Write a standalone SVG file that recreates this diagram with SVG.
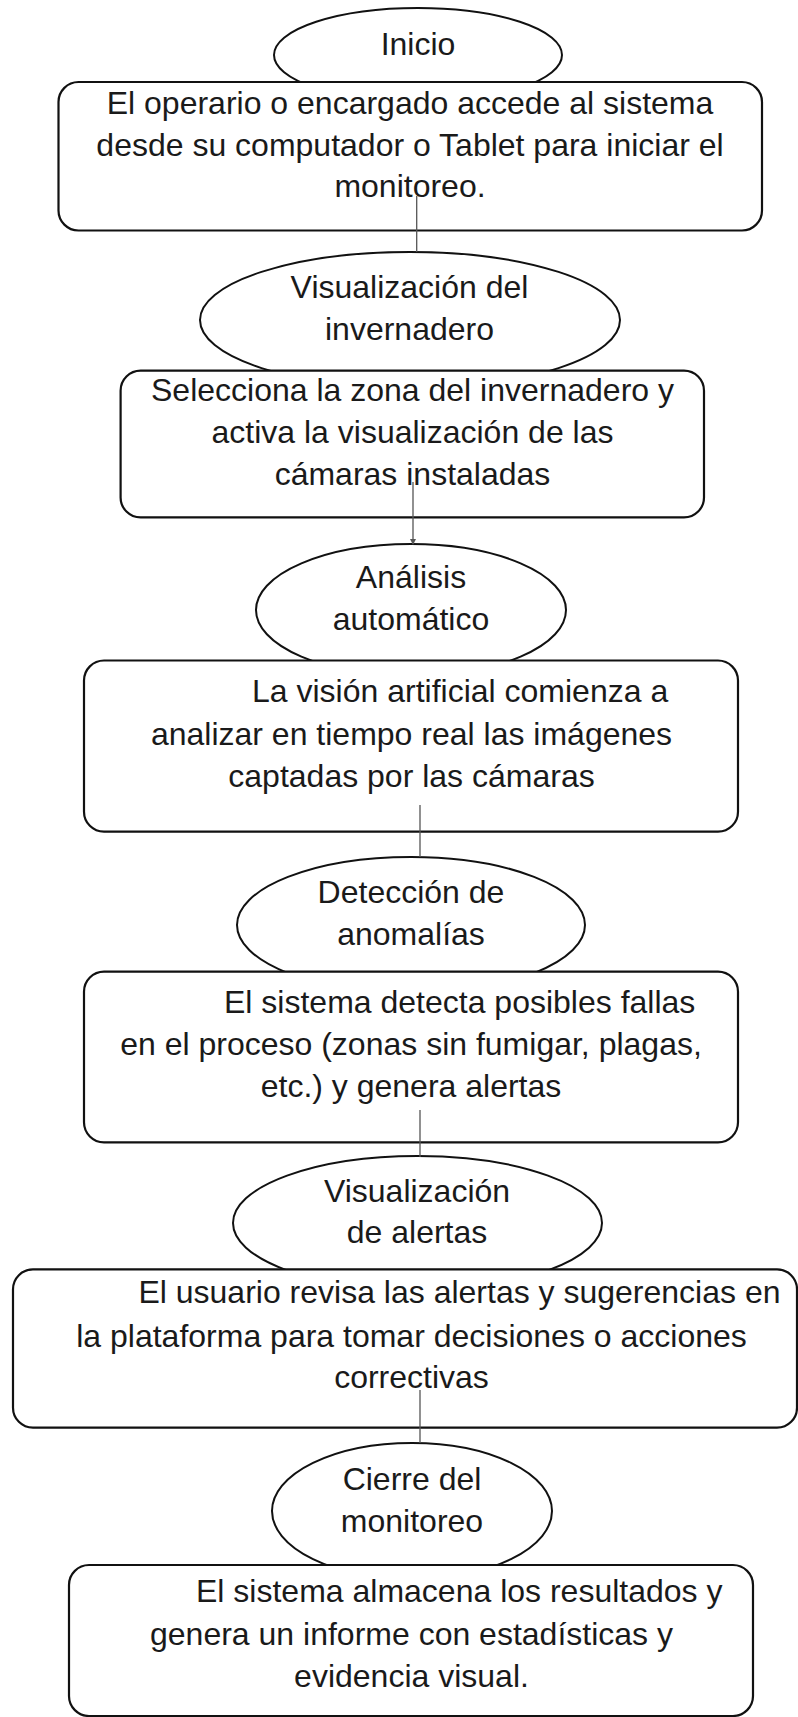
<svg xmlns="http://www.w3.org/2000/svg" width="798" height="1717" viewBox="0 0 798 1717">
<style>
.bg{fill:#ffffff}
.ell{fill:#ffffff;stroke:#111;stroke-width:2}
.box{fill:#ffffff;stroke:#111;stroke-width:2.2}
.t{font-family:"Liberation Sans",Arial,sans-serif;font-size:32px;fill:#1a1a1a}
.c{text-anchor:middle}
.conn{stroke:#555;stroke-width:1.3;fill:none}
</style>
<defs>
<marker id="arr" markerWidth="6" markerHeight="6" refX="5" refY="3" orient="auto" markerUnits="userSpaceOnUse">
<path d="M0,0 L6,3 L0,6 Z" fill="#555"/>
</marker>
</defs>
<rect class="bg" x="0" y="0" width="798" height="1717"/>

<g id="n1-inicio">
<ellipse class="ell" cx="418" cy="55" rx="144" ry="47"/>
<text class="t c" x="418" y="55">Inicio</text>
</g>
<g id="n2-acceso">
<rect class="box" x="58.5" y="82" width="703.5" height="148.5" rx="20" ry="20"/>
<text class="t c" x="410" y="113.5">El operario o encargado accede al sistema</text>
<text class="t c" x="410" y="155.5">desde su computador o Tablet para iniciar el</text>
<text class="t c" x="410" y="197">monitoreo.</text>
</g>
<g id="n3-visualizacion">
<ellipse class="ell" cx="410" cy="320" rx="210" ry="68"/>
<text class="t c" x="409.5" y="298">Visualización del</text>
<text class="t c" x="409.5" y="340">invernadero</text>
</g>
<g id="n4-seleccion">
<rect class="box" x="120.6" y="370.7" width="583.4" height="146.7" rx="20" ry="20"/>
<text class="t c" x="412.5" y="401">Selecciona la zona del invernadero y</text>
<text class="t c" x="412.5" y="443">activa la visualización de las</text>
<text class="t c" x="412.5" y="485">cámaras instaladas</text>
</g>
<g id="n5-analisis">
<ellipse class="ell" cx="411" cy="610" rx="155" ry="66"/>
<text class="t c" x="411" y="588">Análisis</text>
<text class="t c" x="411" y="630">automático</text>
</g>
<g id="n6-vision">
<rect class="box" x="84" y="660.5" width="654" height="171.2" rx="20" ry="20"/>
<text class="t" x="252" y="701.7">La visión artificial comienza a</text>
<text class="t c" x="411.5" y="745">analizar en tiempo real las imágenes</text>
<text class="t c" x="411.5" y="786.7">captadas por las cámaras</text>
</g>
<g id="n7-deteccion">
<ellipse class="ell" cx="411" cy="925" rx="174" ry="68"/>
<text class="t c" x="411" y="903">Detección de</text>
<text class="t c" x="411" y="945">anomalías</text>
</g>
<g id="n8-fallas">
<rect class="box" x="84" y="971.7" width="654" height="170.6" rx="20" ry="20"/>
<text class="t" x="224" y="1013">El sistema detecta posibles fallas</text>
<text class="t c" x="411" y="1055">en el proceso (zonas sin fumigar, plagas,</text>
<text class="t c" x="411" y="1096.7">etc.) y genera alertas</text>
</g>
<g id="n9-alertas">
<ellipse class="ell" cx="417.5" cy="1223" rx="184.5" ry="67"/>
<text class="t c" x="417" y="1201.7">Visualización</text>
<text class="t c" x="417" y="1243">de alertas</text>
</g>
<g id="n10-revision">
<rect class="box" x="13" y="1269.3" width="784" height="158.4" rx="20" ry="20"/>
<text class="t" x="138.4" y="1303.3">El usuario revisa las alertas y sugerencias en</text>
<text class="t c" x="411.5" y="1346.7">la plataforma para tomar decisiones o acciones</text>
<text class="t c" x="411.5" y="1388.3">correctivas</text>
</g>
<g id="n11-cierre">
<ellipse class="ell" cx="412" cy="1511" rx="140" ry="68"/>
<text class="t c" x="412" y="1490">Cierre del</text>
<text class="t c" x="412" y="1531.7">monitoreo</text>
</g>
<g id="n12-informe">
<rect class="box" x="69" y="1565" width="684" height="151" rx="20" ry="20"/>
<text class="t" x="196" y="1601.7">El sistema almacena los resultados y</text>
<text class="t c" x="411.5" y="1645">genera un informe con estadísticas y</text>
<text class="t c" x="411.5" y="1686.7">evidencia visual.</text>
</g>

<g id="connectors">
<line class="conn" x1="416.7" y1="196" x2="416.7" y2="252"/>
<line class="conn" x1="413" y1="482" x2="413" y2="544" marker-end="url(#arr)"/>
<line class="conn" x1="420" y1="805" x2="420" y2="857"/>
<line class="conn" x1="420" y1="1110" x2="420" y2="1157"/>
<line class="conn" x1="420" y1="1390" x2="420" y2="1443"/>
</g>
</svg>
